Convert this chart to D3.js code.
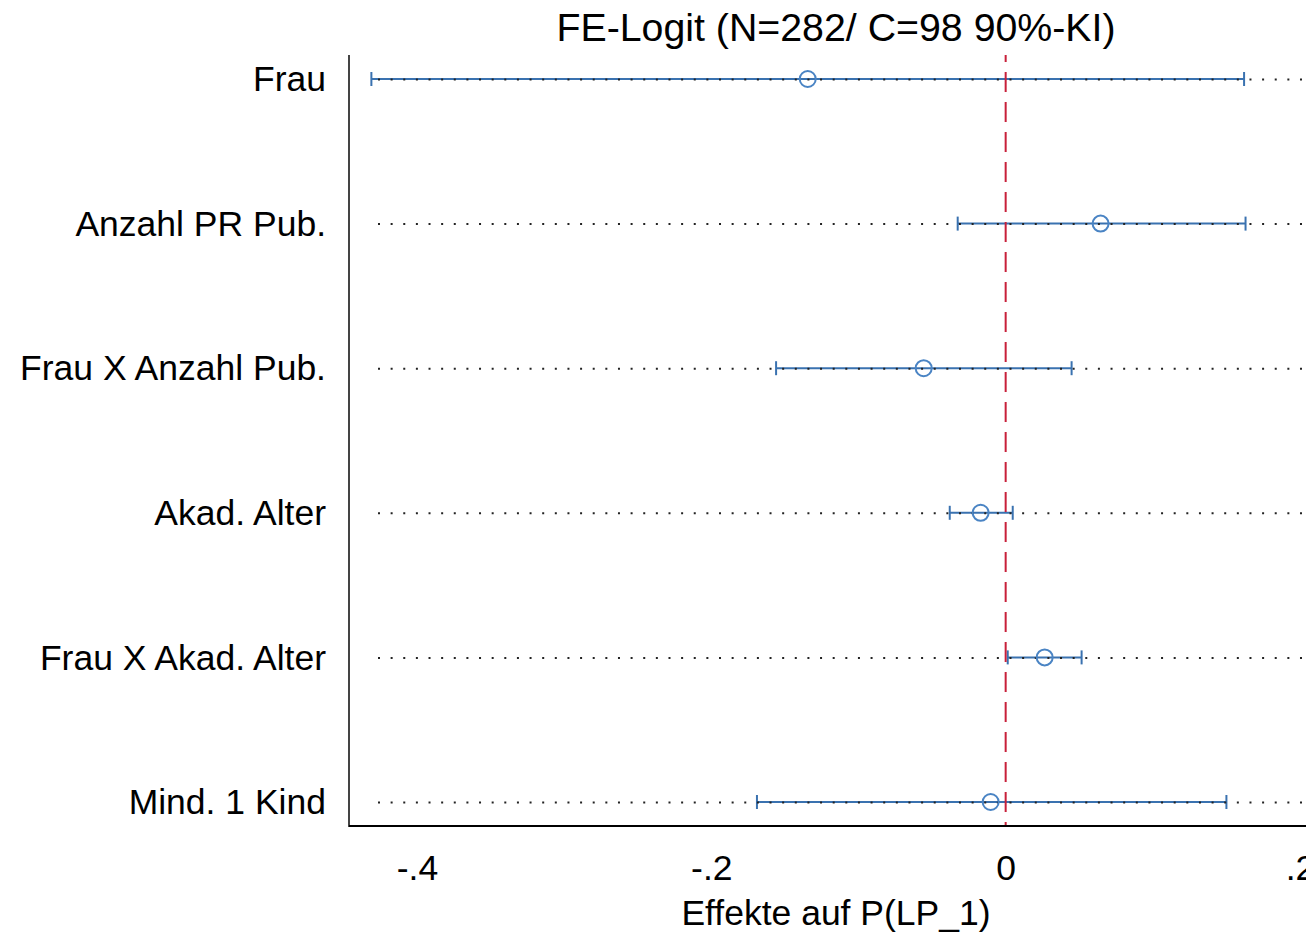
<!DOCTYPE html>
<html lang="de">
<head>
    <meta charset="UTF-8">
    <title>FE-Logit Koeffizienten</title>
    <script src="https://d3js.org/d3.v7.min.js"></script>
    <style>
        body {
            margin: 0;
            padding: 0;
            background: white;
            font-family: Arial, "Liberation Sans", sans-serif;
        }
        svg { display: block; }
    </style>
</head>
<body>
    <div id="chart"></div>
    <script>
        // 1. Data
        const terms = ["Frau", "Anzahl PR Pub.", "Frau X Anzahl Pub.", "Akad. Alter", "Frau X Akad. Alter", "Mind. 1 Kind"]
        const estimates = [-0.1345, 0.0645, -0.0557, -0.017, 0.0265, -0.0102]
        const ciLower = [-0.431, -0.0326, -0.156, -0.038, 0.0014, -0.169]
        const ciUpper = [0.162, 0.163, 0.0448, 0.0048, 0.0516, 0.150]
        const xTicks = [-0.4, -0.2, 0, 0.2]
        const xTickLabels = ["-.4", "-.2", "0", ".2"]
        const titleText = "FE-Logit (N=282/ C=98 90%-KI)"
        const xTitle = "Effekte auf P(LP_1)"

        const rows = terms.map((t, i) => ({
            term: t, est: estimates[i], lo: ciLower[i], hi: ciUpper[i]
        }))

        // 2. Dimensions
        const width = 1306
        const height = 934
        const plot = { left: 349, top: 55, bottom: 826, right: 1323 }

        // 3. Canvas
        const svg = d3.select("#chart")
            .append("svg")
                .attr("width", width)
                .attr("height", height)

        // 4. Scales
        const xScale = d3.scaleLinear()
            .domain([-0.4, 0.2])
            .range([417, 1300])

        const yScale = d3.scalePoint()
            .domain(terms)
            .range([79, 802])

        // 5. Draw data
        const rowG = svg.append("g")
            .selectAll("g")
            .data(rows)
            .join("g")
                .attr("transform", d => `translate(0, ${yScale(d.term)})`)

        // CI lines
        rowG.append("line")
            .attr("x1", d => xScale(d.lo))
            .attr("x2", d => xScale(d.hi))
            .attr("stroke", "#3a72b0")
            .attr("stroke-width", 2)

        // CI caps
        rowG.selectAll(".cap")
            .data(d => [d.lo, d.hi])
            .join("line")
                .attr("class", "cap")
                .attr("x1", d => xScale(d))
                .attr("x2", d => xScale(d))
                .attr("y1", -7)
                .attr("y2", 7)
                .attr("stroke", "#3a72b0")
                .attr("stroke-width", 2)

        // dotted row guides
        rowG.append("line")
            .attr("x1", 378)
            .attr("x2", plot.right)
            .attr("y1", 0.5)
            .attr("y2", 0.5)
            .attr("stroke", "#222")
            .attr("stroke-width", 2)
            .attr("stroke-dasharray", "2 10.63")

        // zero reference line
        svg.append("line")
            .attr("x1", xScale(0))
            .attr("x2", xScale(0))
            .attr("y1", plot.top)
            .attr("y2", plot.bottom)
            .attr("stroke", "#c8203a")
            .attr("stroke-width", 2)
            .attr("stroke-dasharray", "20 10")
            .attr("stroke-dashoffset", 13)

        // point estimates
        rowG.append("circle")
            .attr("cx", d => xScale(d.est))
            .attr("r", 8)
            .attr("fill", "none")
            .attr("stroke", "#4a84c4")
            .attr("stroke-width", 2)

        // 6. Peripherals
        svg.append("line")
            .attr("x1", plot.left)
            .attr("x2", plot.left)
            .attr("y1", plot.top)
            .attr("y2", plot.bottom + 1)
            .attr("stroke", "#444")
            .attr("stroke-width", 2)

        const xAxis = svg.append("g")
            .attr("transform", `translate(0, ${plot.bottom})`)
            .call(d3.axisBottom(xScale)
                .tickValues(xTicks)
                .tickSize(0)
                .tickPadding(29)
                .tickFormat((d, i) => xTickLabels[i]))
        xAxis.select(".domain")
            .attr("d", `M${plot.left},0H${plot.right}`)
            .attr("stroke", "#000")
            .attr("stroke-width", 2)
        xAxis.selectAll("text")
            .attr("font-family", "Arial, 'Liberation Sans', sans-serif")
            .attr("font-size", 35.5)
            .attr("fill", "#000")

        const yAxis = svg.append("g")
            .attr("transform", "translate(326, 0)")
            .call(d3.axisLeft(yScale).tickSize(0).tickPadding(0))
        yAxis.select(".domain").remove()
        yAxis.selectAll("text")
            .attr("font-family", "Arial, 'Liberation Sans', sans-serif")
            .attr("font-size", 35.5)
            .attr("dy", "0.33em")
            .attr("fill", "#000")

        svg.append("text")
            .attr("x", (plot.left + plot.right) / 2)
            .attr("y", 27)
            .attr("dy", "0.35em")
            .attr("text-anchor", "middle")
            .attr("font-size", 39.3)
            .text(titleText)

        svg.append("text")
            .attr("x", (plot.left + plot.right) / 2)
            .attr("y", 913)
            .attr("dy", "0.35em")
            .attr("text-anchor", "middle")
            .attr("font-size", 35.5)
            .text(xTitle)
    </script>
</body>
</html>
